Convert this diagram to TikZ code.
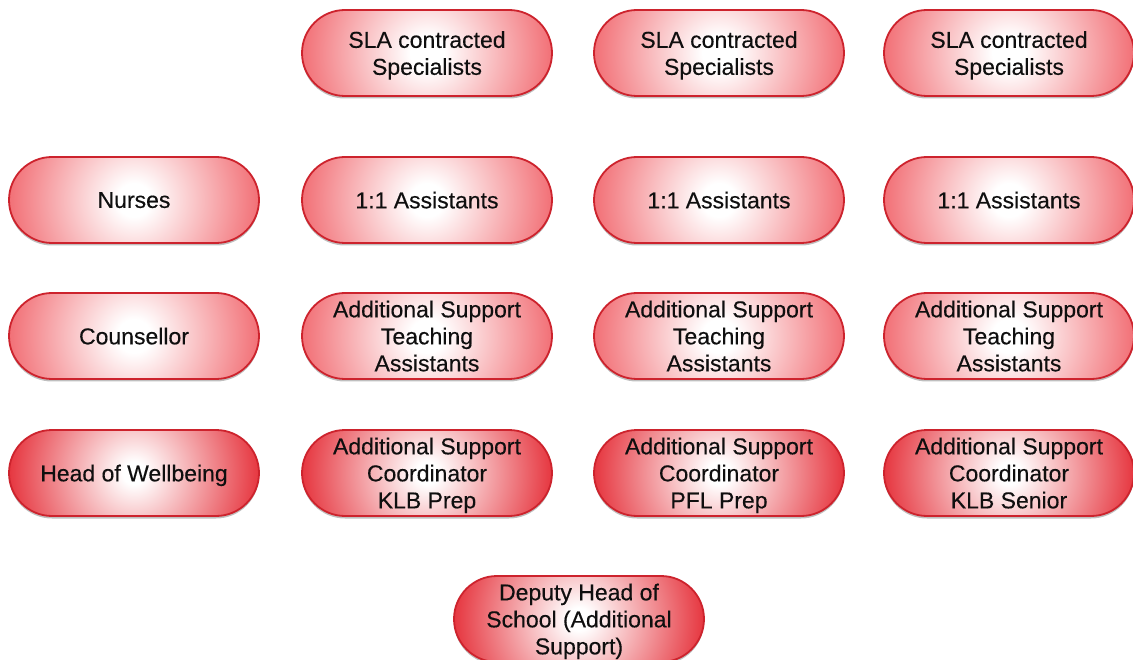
\documentclass[tikz,border=0pt]{standalone}
\usepackage{fontspec}
\setmainfont{Liberation Sans}[FakeBold=0.3]
\usetikzlibrary{shadows}
\definecolor{edgered}{RGB}{205,35,45}
\definecolor{softred}{RGB}{238,70,78}
\definecolor{deepred}{RGB}{228,38,48}
\definecolor{inkgray}{RGB}{15,15,15}
\pgfdeclareradialshading{pilllight}{\pgfpoint{0bp}{0bp}}{color(0bp)=(white); color(3bp)=(white); color(28bp)=(softred); color(50bp)=(softred)}
\pgfdeclareradialshading{pilldeep}{\pgfpoint{0bp}{0bp}}{color(0bp)=(white); color(2bp)=(white); color(24bp)=(deepred); color(50bp)=(deepred)}
\begin{document}
\begin{tikzpicture}[x=1pt,y=-1pt,
  role/.style={draw=edgered,line width=1.8pt,rectangle,rounded corners=43pt,
    minimum width=250pt,minimum height=86pt,align=center,text=inkgray,
    font=\fontsize{23}{27}\selectfont,text depth=0pt,
    path picture={\shade[shading=pilllight] (path picture bounding box.center) circle (140pt);},
    drop shadow={shadow xshift=0pt,shadow yshift=-2.5pt,opacity=0.25,fill=black}},
  lead/.style={role,
    path picture={\shade[shading=pilldeep] (path picture bounding box.center) circle (140pt);}},
]
\useasboundingbox (0,0) rectangle (1133,660);
%% top row
  % Node: sla1
  \node[role] (sla1) at (427,53) {SLA contracted\\Specialists};
  % Node: sla2
  \node[role] (sla2) at (719,53) {SLA contracted\\Specialists};
  % Node: sla3
  \node[role] (sla3) at (1009,53) {SLA contracted\\Specialists};
%% second row
  % Node: nurses
  \node[role] (nurses) at (134,200) {Nurses};
  % Node: asst1
  \node[role] (asst1) at (427,200) {1:1 Assistants};
  % Node: asst2
  \node[role] (asst2) at (719,200) {1:1 Assistants};
  % Node: asst3
  \node[role] (asst3) at (1009,200) {1:1 Assistants};
%% third row
  % Node: counsellor
  \node[role] (counsellor) at (134,336) {Counsellor};
  % Node: tas1
  \node[role] (tas1) at (427,336) {Additional Support\\Teaching\\Assistants};
  % Node: tas2
  \node[role] (tas2) at (719,336) {Additional Support\\Teaching\\Assistants};
  % Node: tas3
  \node[role] (tas3) at (1009,336) {Additional Support\\Teaching\\Assistants};
%% fourth row
  % Node: wellbeing
  \node[lead] (wellbeing) at (134,473) {Head of Wellbeing};
  % Node: coord1
  \node[lead] (coord1) at (427,473) {Additional Support\\Coordinator\\KLB Prep};
  % Node: coord2
  \node[lead] (coord2) at (719,473) {Additional Support\\Coordinator\\PFL Prep};
  % Node: coord3
  \node[lead] (coord3) at (1009,473) {Additional Support\\Coordinator\\KLB Senior};
%% bottom
  % Node: deputy
  \node[lead] (deputy) at (579,619) {Deputy Head of\\School (Additional\\Support)};
\end{tikzpicture}
\end{document}
